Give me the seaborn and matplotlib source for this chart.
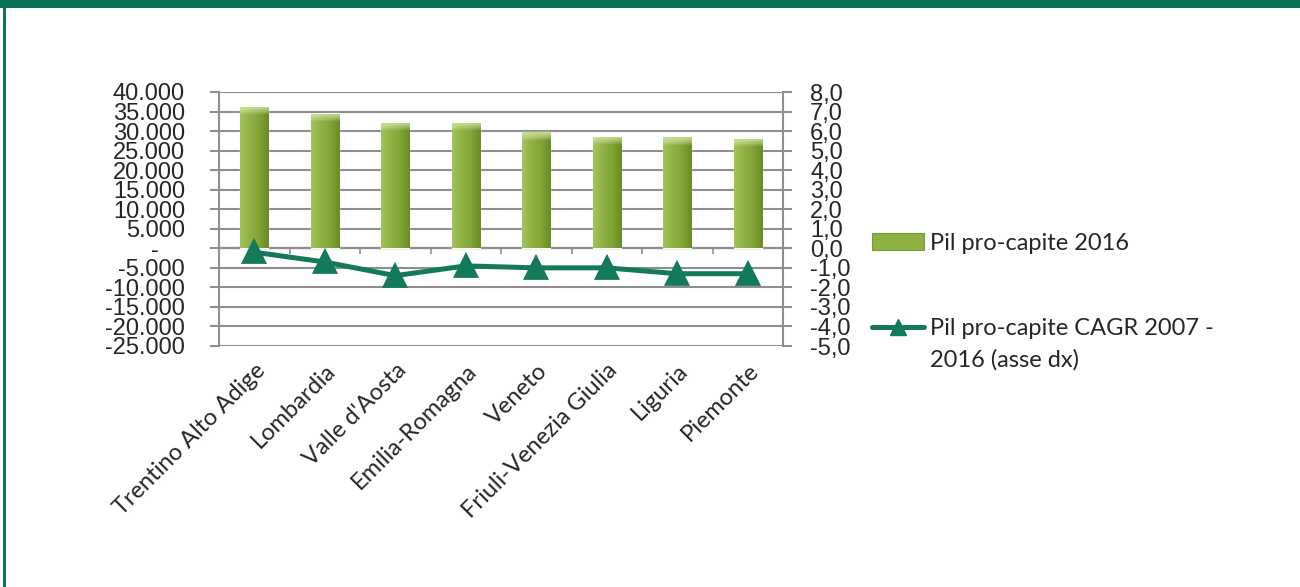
import numpy as np
import pandas as pd
import matplotlib
matplotlib.use("Agg")
import matplotlib.pyplot as plt
import seaborn as sns
from matplotlib.ticker import FixedLocator, FuncFormatter
from matplotlib.colors import LinearSegmentedColormap
from matplotlib.lines import Line2D
from matplotlib.patches import Patch, Rectangle

# --- data -------------------------------------------------------------
regions = ["Trentino Alto Adige", "Lombardia", "Valle d'Aosta", "Emilia-Romagna",
           "Veneto", "Friuli-Venezia Giulia", "Liguria", "Piemonte"]
pil_2016 = [36200, 34400, 32100, 32100, 29700, 28600, 28500, 28000]
cagr_2007_2016 = [-0.2, -0.7, -1.4, -0.9, -1.0, -1.0, -1.3, -1.3]
left_ticks = list(range(-25000, 40001, 5000))
right_ticks = list(range(-5, 9))
bar_label = "Pil pro-capite 2016"
line_label = "Pil pro-capite CAGR 2007 -"
line_label_cont = "2016 (asse dx)"

df = pd.DataFrame({"regione": regions, "pil": pil_2016, "cagr": cagr_2007_2016})

# --- style ------------------------------------------------------------
sns.set_theme(style="white")
plt.rcParams["font.family"] = ["Liberation Sans", "DejaVu Sans"]

FRAME = "#0A7358"
LINE = "#127A5A"
GRID = "#8E8E8E"
BAR = "#8BAE3F"
TEXT_FONT = ["Lato", "DejaVu Sans"]
TEXT_SIZE = 17

W, H = 1300, 587
fig = plt.figure(figsize=(W / 100, H / 100), dpi=100)
ax = fig.add_axes([219 / W, 1 - 346 / H, 564 / W, (346 - 92) / H])

# bars (primary axis)
sns.barplot(data=df, x="regione", y="pil", ax=ax, color=BAR, width=0.4,
            saturation=1, zorder=3)

# soft horizontal shading inside each bar
shade = LinearSegmentedColormap.from_list(
    "bar_shade", ["#A3C35C", "#8FB243", "#80A436", "#6A8B25"])
grad = np.linspace(0, 1, 64).reshape(1, -1)
bevel_cmap = LinearSegmentedColormap.from_list(
    "bev", [(1, 1, 1, 0), (0.82, 0.91, 0.55, 0.85)])
for p in list(ax.patches):
    x0, y0, w, h = p.get_x(), p.get_y(), p.get_width(), p.get_height()
    im = ax.imshow(grad, extent=[x0, x0 + w, y0, y0 + h], aspect="auto",
                   cmap=shade, zorder=3.1, interpolation="bicubic")
    im.set_clip_path(p)
    # lighter bevel at the top of the bar
    bevel = ax.imshow(np.linspace(1, 0, 16).reshape(-1, 1),
                      extent=[x0, x0 + w, y0 + h - 2200, y0 + h], aspect="auto",
                      cmap=bevel_cmap, zorder=3.2)
    bevel.set_clip_path(p)

ax.set_ylim(left_ticks[0], left_ticks[-1])
ax.yaxis.set_major_locator(FixedLocator(left_ticks))


def it_thousands(v, _pos):
    if v == 0:
        return "-    "
    return f"{v:,.0f}".replace(",", ".")


ax.yaxis.set_major_formatter(FuncFormatter(it_thousands))
ax.yaxis.grid(True, color=GRID, lw=1.5, zorder=0)
ax.xaxis.grid(False)
ax.set_axisbelow(True)
ax.tick_params(axis="y", left=True, direction="out", length=6.5, width=1.5,
               color=GRID, labelsize=17, pad=18)
for s in ("top", "bottom"):
    ax.spines[s].set_visible(False)
for s in ("left", "right"):
    ax.spines[s].set_color(GRID)
    ax.spines[s].set_linewidth(1.5)

# category labels
ax.set_xticks(range(len(regions)))
ax.set_xticklabels(regions, rotation=45, ha="right", rotation_mode="anchor",
                   fontsize=TEXT_SIZE, family=TEXT_FONT)
ax.tick_params(axis="x", bottom=False, length=0, pad=10)
ax.set_xlabel("")
ax.set_ylabel("")

# category axis crossing at zero with boundary ticks
zero_frac = (0 - left_ticks[0]) / (left_ticks[-1] - left_ticks[0])
cat_axis = ax.secondary_xaxis(zero_frac)
cat_axis.set_xticks(np.arange(len(regions) - 1) + 0.5)
cat_axis.set_xticklabels([])
cat_axis.tick_params(axis="x", bottom=True, direction="out", length=4,
                     width=1.2, color=GRID)
cat_axis.spines["bottom"].set_color("#7A7A7A")
cat_axis.spines["bottom"].set_linewidth(1.6)
for s in ("top", "left", "right"):
    cat_axis.spines[s].set_visible(False)

# CAGR line (secondary axis)
ax2 = ax.twinx()
sns.pointplot(data=df, x="regione", y="cagr", ax=ax2, color=LINE, markers="^",
              markersize=14, linewidth=3.6, errorbar=None, zorder=5)
ax2.set_ylim(right_ticks[0], right_ticks[-1])
ax2.yaxis.set_major_locator(FixedLocator(right_ticks))
ax2.yaxis.set_major_formatter(
    FuncFormatter(lambda v, _p: f"{v:.1f}".replace(".", ",")))
ax2.tick_params(axis="y", right=True, direction="out", length=6.5, width=1.5,
                color=GRID, labelsize=17, pad=13)
ax2.grid(False)
ax2.set_ylabel("")
ax2.set_xlabel("")
for s in ax2.spines.values():
    s.set_visible(False)
ax.set_xlim(-0.5, len(regions) - 0.5)

# legend
handles = [
    Patch(facecolor="#8EB143", edgecolor="#7A9A33", lw=0.8),
    Line2D([], [], color=LINE, lw=3.6, marker="^", markersize=12),
]
leg = fig.legend(handles, [bar_label, line_label], loc="upper left",
                 bbox_to_anchor=(872 / W, 1 - 233 / H), frameon=False,
                 prop={"family": TEXT_FONT, "size": TEXT_SIZE},
                 handlelength=2.2, handleheight=0.7, handletextpad=0.25,
                 labelspacing=2.73, borderpad=0, borderaxespad=0)

# second line of the CAGR label, placed under its first line
fig.canvas.draw()
bb = leg.get_texts()[1].get_window_extent()
fig.text(bb.x0 / W, (bb.y0 - 10) / H, line_label_cont, ha="left", va="top",
         family=TEXT_FONT, fontsize=TEXT_SIZE)

# page frame
fig.add_artist(Rectangle((0, 1 - 8 / H), 1, 8 / H, transform=fig.transFigure,
                         facecolor=FRAME, edgecolor="none"))
fig.add_artist(Rectangle((3 / W, 0), 3 / W, 1, transform=fig.transFigure,
                         facecolor=FRAME, edgecolor="none"))

fig.savefig("out.png", dpi=100, facecolor="white")
